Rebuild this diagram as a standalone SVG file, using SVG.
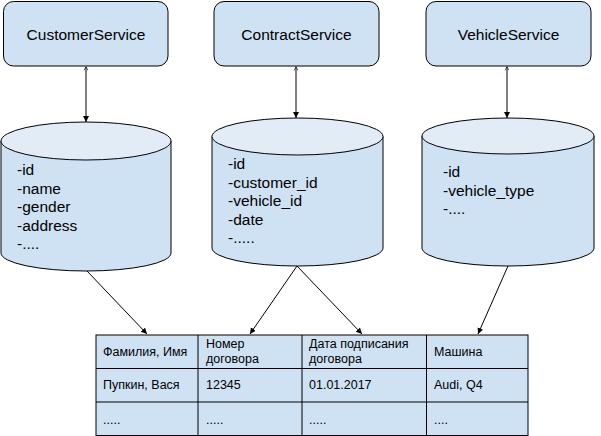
<svg xmlns="http://www.w3.org/2000/svg" width="601" height="436" viewBox="0 0 601 436">
<defs>
<style>
.svc{fill:#cfe2f3;stroke:#000;stroke-width:1}
.body{fill:#cfe2f3;stroke:#000;stroke-width:1}
.top{fill:#e1ecf7;stroke:#000;stroke-width:1}
.t{font-family:"Liberation Sans",Arial,sans-serif;fill:#000}
.st{font-size:15.5px;text-anchor:middle}
.ct{font-size:15.5px}
.tt{font-size:12.5px}
.cell{fill:#cfe2f3;stroke:#000;stroke-width:1}
.grid{stroke:#000;stroke-width:1;fill:none}
.conn{stroke:#000;stroke-width:1;fill:none}
</style>
<marker id="ah" markerWidth="8" markerHeight="8" refX="6" refY="3" orient="auto" markerUnits="userSpaceOnUse">
<path d="M0,0 L6,3 L0,6 Z" fill="#000"/>
</marker>
<marker id="as" markerWidth="6" markerHeight="6" refX="0" refY="2" orient="auto" markerUnits="userSpaceOnUse">
<path d="M4,0 L0,2 L4,4" fill="none" stroke="#000" stroke-width="0.6"/>
</marker>
</defs>
<g id="customer-service">
<rect class="svc" x="3.5" y="1.5" width="164.5" height="64.5" rx="10"/>
<text class="t st" x="86" y="39.5">CustomerService</text>
</g>
<g id="contract-service">
<rect class="svc" x="214" y="1.5" width="165" height="64.5" rx="10"/>
<text class="t st" x="296.5" y="39.5">ContractService</text>
</g>
<g id="vehicle-service">
<rect class="svc" x="426" y="1.5" width="165" height="64.5" rx="10"/>
<text class="t st" x="508.5" y="39.5">VehicleService</text>
</g>
<g id="customer-db">
<path class="body" d="M1,141 L1,253 A85,18 0 0 0 171,253 L171,141 Z"/>
<ellipse class="top" cx="86" cy="141" rx="85" ry="19"/>
<text class="t ct" x="17" y="175">-id</text>
<text class="t ct" x="17" y="193.5">-name</text>
<text class="t ct" x="17" y="212">-gender</text>
<text class="t ct" x="17" y="230.5">-address</text>
<text class="t ct" x="17" y="249">-....</text>
</g>
<g id="contract-db">
<path class="body" d="M212,136.5 L212,248 A85.5,18 0 0 0 383,248 L383,136.5 Z"/>
<ellipse class="top" cx="297.5" cy="136.5" rx="85.5" ry="18.5"/>
<text class="t ct" x="228" y="169">-id</text>
<text class="t ct" x="228" y="187.5">-customer_id</text>
<text class="t ct" x="228" y="206">-vehicle_id</text>
<text class="t ct" x="228" y="224.5">-date</text>
<text class="t ct" x="228" y="243">-.....</text>
</g>
<g id="vehicle-db">
<path class="body" d="M422,136 L422,248 A86,18 0 0 0 594,248 L594,136 Z"/>
<ellipse class="top" cx="508" cy="136" rx="86" ry="18"/>
<text class="t ct" x="443" y="177">-id</text>
<text class="t ct" x="443" y="195.5">-vehicle_type</text>
<text class="t ct" x="443" y="214">-....</text>
</g>
<g id="table">
<rect class="cell" x="96" y="335" width="432" height="100.5"/>
<line class="grid" x1="96" y1="368.5" x2="528" y2="368.5"/>
<line class="grid" x1="96" y1="402" x2="528" y2="402"/>
<line class="grid" x1="198" y1="335" x2="198" y2="435.5"/>
<line class="grid" x1="302" y1="335" x2="302" y2="435.5"/>
<line class="grid" x1="426.5" y1="335" x2="426.5" y2="435.5"/>
<text class="t tt" x="103" y="356">Фамилия, Имя</text>
<text class="t tt" x="206" y="348">Номер</text>
<text class="t tt" x="206" y="363">договора</text>
<text class="t tt" x="309" y="348">Дата подписания</text>
<text class="t tt" x="309" y="363">договора</text>
<text class="t tt" x="434" y="356">Машина</text>
<text class="t tt" x="103" y="389">Пупкин, Вася</text>
<text class="t tt" x="206" y="389">12345</text>
<text class="t tt" x="309" y="389">01.01.2017</text>
<text class="t tt" x="434" y="389">Audi, Q4</text>
<text class="t tt" x="103" y="424">.....</text>
<text class="t tt" x="206" y="424">.....</text>
<text class="t tt" x="309" y="424">.....</text>
<text class="t tt" x="434" y="424">....</text>
</g>
<g id="connectors">
<line class="conn" x1="86" y1="66.5" x2="86" y2="122" marker-start="url(#as)" marker-end="url(#ah)"/>
<line class="conn" x1="296" y1="66.5" x2="296" y2="118" marker-start="url(#as)" marker-end="url(#ah)"/>
<line class="conn" x1="507" y1="66.5" x2="507" y2="118" marker-start="url(#as)" marker-end="url(#ah)"/>
<line class="conn" x1="87" y1="271" x2="147" y2="334" marker-end="url(#ah)"/>
<line class="conn" x1="297" y1="266" x2="250" y2="334" marker-end="url(#ah)"/>
<line class="conn" x1="297" y1="266" x2="362" y2="334" marker-end="url(#ah)"/>
<line class="conn" x1="508" y1="266" x2="478" y2="334" marker-end="url(#ah)"/>
</g>
</svg>
